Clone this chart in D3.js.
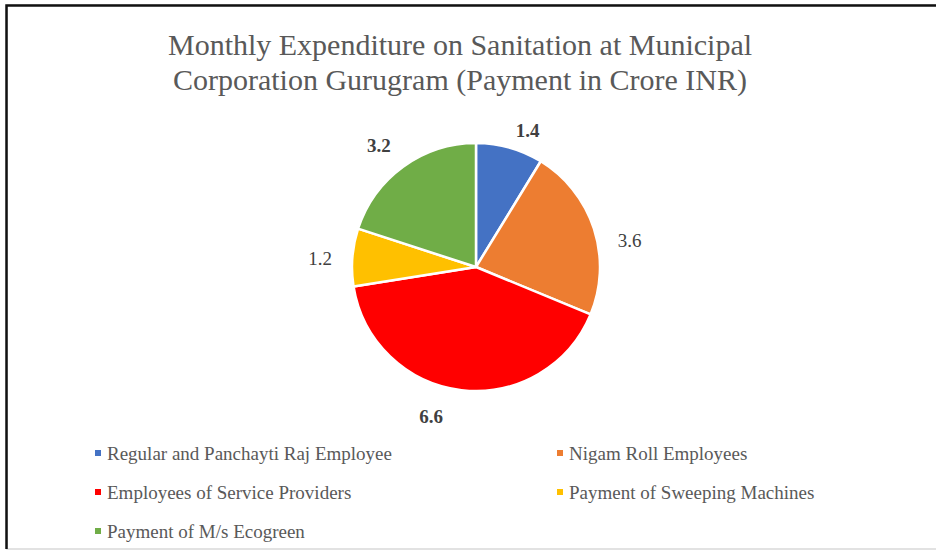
<!DOCTYPE html>
<html>
<head>
<meta charset="utf-8">
<script src="https://cdn.jsdelivr.net/npm/d3@7"></script>
<style>
  body { margin: 0; background: #fff; }
  svg text { font-family: "Liberation Serif", "Times New Roman", serif; }
</style>
</head>
<body>
<div id="chart"></div>
<script>

var categories = [
  'Regular and Panchayti Raj Employee',
  'Nigam Roll Employees',
  'Employees of Service Providers',
  'Payment of Sweeping Machines',
  'Payment of M/s Ecogreen'
];
var values = [ 1.4, 3.6, 6.6, 1.2, 3.2 ];
var colors = [ '#4472c4', '#ed7d31', '#ff0000', '#ffc000', '#70ad47' ];
var boldLabel = [ true, false, true, false, true ];
var titleLines = [
  'Monthly Expenditure on Sanitation at Municipal',
  'Corporation Gurugram (Payment in Crore INR)'
];

var settings = {
  width: 936,
  height: 551,
  cx: 476,
  cy: 267,
  radius: 124,
  // excel "best fit" nudges the labels round a little (degrees) and in/out
  labelTurn: [ 5, 8, 10, -1.5, -2.5 ],
  labelRadius: [ 146, 156, 156, 156, 156 ]
};

var svg = d3.select('#chart').append('svg')
  .attr('width', settings.width)
  .attr('height', settings.height);

// frame
svg.append('rect')
  .attr('x', 7).attr('y', 5)
  .attr('width', 940).attr('height', 544)
  .attr('fill', '#fff')
  .attr('stroke', '#d9d9d9')
  .attr('stroke-width', 1.5);
svg.append('path')
  .attr('d', 'M6.5,549 L6.5,5.5 L940,5.5')
  .attr('fill', 'none')
  .attr('stroke', '#111')
  .attr('stroke-width', 2.5);

svg.selectAll('.title')
  .data( titleLines )
  .enter()
  .append('text')
  .classed('title', true)
  .attr('x', 460)
  .attr('y', function( d, i ) { return 55 + i * 35 })
  .attr('text-anchor', 'middle')
  .attr('fill', '#595959')
  .style('font-size', '30px')
  .text( function( d ) { return d });

var pie = d3.pie().sort( null ).value( function( d ) { return d });
var arcs = pie( values );

var arc = d3.arc().innerRadius( 0 ).outerRadius( settings.radius );

var g = svg.append('g')
  .attr('transform', 'translate(' + settings.cx + ',' + settings.cy + ')');

g.selectAll('path')
  .data( arcs )
  .enter()
  .append('path')
  .attr('d', arc)
  .attr('fill', function( d, i ) { return colors[i] })
  .attr('stroke', '#fff')
  .attr('stroke-width', 2.5)
  .attr('stroke-linejoin', 'round');

function labelPos( d, i ) {
  var a = ( d.startAngle + d.endAngle ) / 2 + settings.labelTurn[i] * Math.PI / 180;
  var r = settings.labelRadius[i];
  return [ Math.sin( a ) * r, -Math.cos( a ) * r ];
}

g.selectAll('.lbl')
  .data( arcs )
  .enter()
  .append('text')
  .classed('lbl', true)
  .attr('transform', function( d, i ) { return 'translate(' + labelPos( d, i ) + ')' })
  .attr('text-anchor', 'middle')
  .attr('dy', '0.35em')
  .attr('fill', '#404040')
  .style('font-size', '19px')
  .style('font-weight', function( d, i ) { return boldLabel[i] ? 'bold' : 'normal' })
  .text( function( d ) { return d.data.toFixed( 1 ) });

// legend, two columns
var legend = svg.selectAll('.legend')
  .data( categories )
  .enter()
  .append('g')
  .classed('legend', true)
  .attr('transform', function( d, i ) {
    return 'translate(' + ( i % 2 === 0 ? 95 : 557 ) + ',' + ( 453 + Math.floor( i / 2 ) * 39 ) + ')';
  });

legend.append('rect')
  .attr('x', 0).attr('y', -3)
  .attr('width', 6).attr('height', 6)
  .attr('fill', function( d, i ) { return colors[i] });

legend.append('text')
  .attr('x', 12)
  .attr('dy', '0.35em')
  .attr('fill', '#595959')
  .style('font-size', '19px')
  .text( function( d ) { return d });

</script>
</body>
</html>
